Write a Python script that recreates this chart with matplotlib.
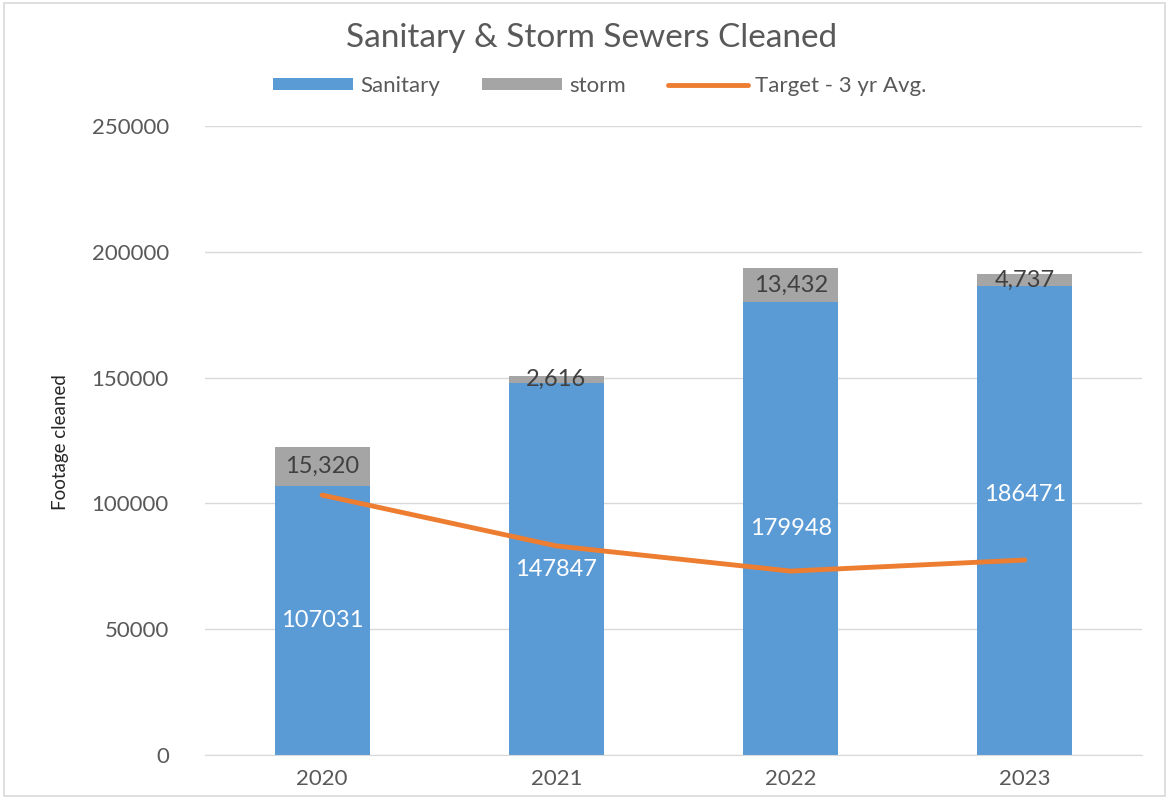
import matplotlib.pyplot as plt
from matplotlib.patches import Rectangle
import numpy as np

years = ["2020", "2021", "2022", "2023"]
sanitary = [107031, 147847, 179948, 186471]
storm = [15320, 2616, 13432, 4737]
target = [103300, 83100, 73100, 77500]

BLUE = "#5b9bd5"
GRAY = "#a5a5a5"
ORANGE = "#ed7d31"
TXT = "#595959"

plt.rcParams['font.family'] = ['Lato', 'DejaVu Sans']

fig = plt.figure(figsize=(11.69, 8.01), dpi=100)
ax = fig.add_axes([205 / 1169, 46 / 801, 937 / 1169, 629 / 801])

x = np.arange(len(years))
bw = 0.405
b1 = ax.bar(x, sanitary, bw, color=BLUE, label="Sanitary", zorder=2)
b2 = ax.bar(x, storm, bw, bottom=sanitary, color=GRAY, label="storm", zorder=2)
ln, = ax.plot(x, target, color=ORANGE, lw=3.5, label="Target - 3 yr Avg.", zorder=3,
              solid_capstyle="round")

label_frac = [0.5, 0.5, 0.5, 0.555]
for i in range(len(years)):
    ax.text(x[i], sanitary[i] * label_frac[i], str(sanitary[i]), ha="center", va="center",
            color="white", fontsize=17, zorder=4)
    ax.text(x[i], sanitary[i] + storm[i] / 2, f"{storm[i]:,}", ha="center", va="center",
            color="#404040", fontsize=17, zorder=4)

ax.set_xlim(-0.5, 3.5)
ax.set_ylim(0, 250000)
ax.set_yticks(range(0, 250001, 50000))
ax.set_xticks(x)
ax.set_xticklabels(years)
ax.tick_params(axis="both", length=0, labelsize=16, colors=TXT)
ax.tick_params(axis="y", pad=26)
ax.tick_params(axis="x", pad=10)
ax.grid(axis="y", color="#d9d9d9", lw=1, zorder=0)
for s in ["top", "right", "left"]:
    ax.spines[s].set_visible(False)
ax.spines["bottom"].set_color("#d9d9d9")

ax.set_ylabel("Footage cleaned", fontsize=13.5, color="#262626")
ax.yaxis.set_label_coords(-0.145, 0.497)

fig.text(0.506, 1 - 38 / 801, "Sanitary & Storm Sewers Cleaned", ha="center", va="center",
         fontsize=24, color=TXT)
fig.legend(handles=[b1, b2, ln], loc="center", bbox_to_anchor=(0.513, 1 - 86 / 801), ncol=3,
           frameon=False, fontsize=16, labelcolor=TXT, handlelength=3.6, handleheight=0.5,
           columnspacing=1.9, handletextpad=0.3)

fig.add_artist(Rectangle((0.003, 0.006), 0.994, 0.99, transform=fig.transFigure,
                         fill=False, edgecolor="#d9d9d9", lw=1.2))

fig.savefig("out.png", dpi=100)
